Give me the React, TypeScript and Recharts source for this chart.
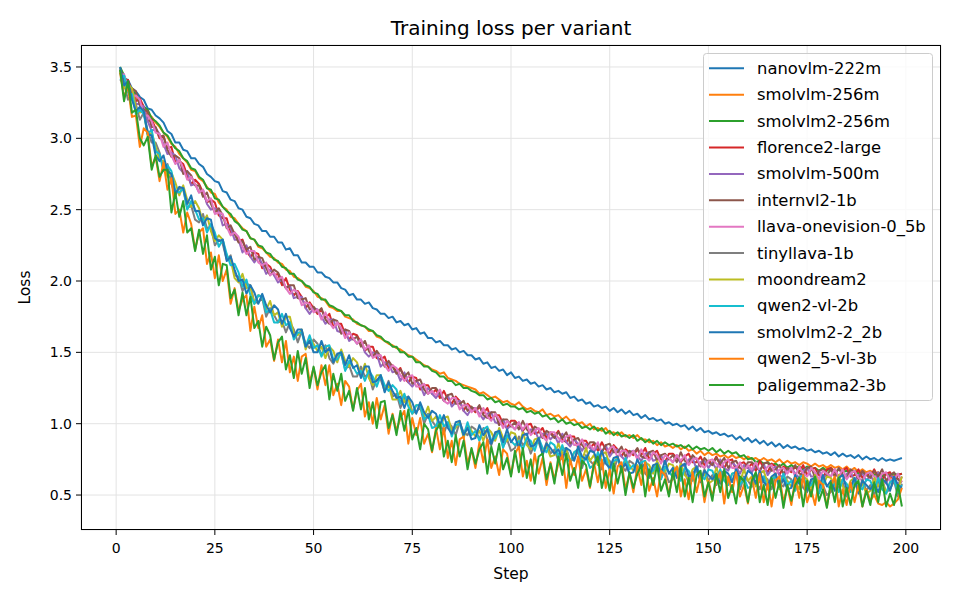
import React from "react";
import { LineChart, Line, XAxis, YAxis, CartesianGrid } from "recharts";

const nanovlm222m = [3.48,3.42,3.41,3.35,3.33,3.29,3.27,3.21,3.20,3.16,
3.14,3.11,3.05,3.03,2.97,2.97,2.92,2.91,2.86,2.86,
2.82,2.80,2.75,2.73,2.70,2.69,2.63,2.62,2.57,2.56,
2.51,2.50,2.45,2.44,2.40,2.39,2.35,2.35,2.31,2.31,
2.27,2.27,2.22,2.23,2.18,2.18,2.13,2.13,2.10,2.10,
2.06,2.06,2.03,2.02,1.99,1.99,1.95,1.94,1.90,1.91,
1.87,1.87,1.84,1.85,1.81,1.80,1.77,1.77,1.74,1.75,
1.71,1.72,1.69,1.70,1.66,1.67,1.63,1.64,1.60,1.60,
1.57,1.58,1.55,1.55,1.52,1.53,1.50,1.51,1.48,1.48,
1.45,1.46,1.42,1.43,1.39,1.40,1.37,1.38,1.34,1.36,
1.32,1.33,1.30,1.31,1.28,1.29,1.26,1.27,1.24,1.25,
1.22,1.23,1.21,1.22,1.18,1.19,1.16,1.17,1.14,1.15,
1.12,1.13,1.11,1.12,1.09,1.11,1.08,1.10,1.07,1.09,
1.06,1.07,1.04,1.06,1.03,1.04,1.02,1.03,1.00,1.01,
0.99,1.00,0.98,0.99,0.96,0.98,0.95,0.97,0.94,0.95,
0.93,0.94,0.92,0.93,0.91,0.92,0.89,0.91,0.88,0.90,
0.87,0.89,0.86,0.88,0.85,0.87,0.84,0.86,0.83,0.85,
0.83,0.84,0.82,0.83,0.81,0.82,0.80,0.81,0.79,0.80,
0.78,0.80,0.77,0.79,0.77,0.78,0.76,0.78,0.75,0.77,
0.75,0.76,0.74,0.76,0.74,0.75,0.74,0.75,0.76];

const smolvlm256m = [3.46,3.40,3.36,3.33,3.28,3.25,3.22,3.17,3.15,3.11,
3.08,3.04,3.01,2.96,2.94,2.89,2.86,2.83,2.78,2.77,
2.72,2.70,2.66,2.62,2.61,2.55,2.52,2.50,2.45,2.44,
2.40,2.37,2.35,2.30,2.29,2.24,2.23,2.20,2.17,2.16,
2.13,2.12,2.08,2.07,2.03,2.02,2.00,1.96,1.95,1.93,
1.89,1.88,1.86,1.82,1.81,1.79,1.79,1.75,1.74,1.73,
1.70,1.69,1.68,1.65,1.65,1.61,1.60,1.58,1.56,1.55,
1.53,1.52,1.50,1.48,1.47,1.45,1.43,1.41,1.40,1.38,
1.37,1.35,1.36,1.32,1.31,1.30,1.28,1.27,1.26,1.25,
1.24,1.21,1.22,1.20,1.18,1.19,1.17,1.15,1.16,1.14,
1.13,1.15,1.12,1.10,1.11,1.09,1.08,1.10,1.06,1.07,
1.05,1.06,1.03,1.05,1.02,1.03,1.00,1.01,0.98,1.00,
0.96,0.97,0.95,0.97,0.93,0.94,0.92,0.94,0.91,0.92,
0.90,0.92,0.89,0.89,0.87,0.88,0.85,0.87,0.84,0.85,
0.83,0.85,0.82,0.84,0.81,0.82,0.79,0.81,0.78,0.80,
0.78,0.79,0.77,0.78,0.76,0.78,0.76,0.77,0.75,0.77,
0.75,0.76,0.74,0.76,0.74,0.75,0.73,0.75,0.72,0.74,
0.72,0.73,0.71,0.73,0.72,0.70,0.72,0.70,0.71,0.69,
0.71,0.69,0.70,0.68,0.70,0.67,0.69,0.66,0.68,0.66,
0.67,0.65,0.66,0.64,0.65,0.62,0.64,0.61,0.62];

const smolvlm2256m = [3.50,3.44,3.38,3.34,3.31,3.26,3.22,3.20,3.14,3.12,
3.09,3.04,3.02,2.97,2.93,2.91,2.86,2.84,2.79,2.78,
2.73,2.71,2.65,2.64,2.58,2.57,2.52,2.49,2.47,2.42,
2.40,2.36,2.35,2.30,2.29,2.25,2.24,2.20,2.19,2.15,
2.14,2.10,2.09,2.05,2.05,2.01,2.00,1.97,1.96,1.92,
1.91,1.87,1.87,1.83,1.82,1.80,1.79,1.76,1.76,1.72,
1.71,1.69,1.68,1.66,1.65,1.62,1.61,1.58,1.57,1.54,
1.54,1.50,1.50,1.47,1.47,1.43,1.43,1.40,1.40,1.37,
1.36,1.33,1.33,1.30,1.30,1.27,1.28,1.25,1.25,1.23,
1.22,1.20,1.20,1.17,1.18,1.15,1.16,1.13,1.14,1.12,
1.12,1.10,1.11,1.08,1.09,1.07,1.08,1.05,1.06,1.03,
1.04,1.01,1.03,1.00,1.01,0.99,1.00,0.97,0.98,0.96,
0.98,0.95,0.97,0.93,0.95,0.92,0.94,0.91,0.92,0.90,
0.92,0.88,0.90,0.87,0.89,0.86,0.88,0.85,0.87,0.85,
0.86,0.84,0.85,0.83,0.85,0.82,0.84,0.82,0.83,0.81,
0.83,0.80,0.82,0.79,0.81,0.79,0.80,0.77,0.78,0.75,
0.76,0.73,0.74,0.72,0.73,0.71,0.72,0.70,0.72,0.69,
0.71,0.69,0.70,0.68,0.70,0.68,0.69,0.67,0.69,0.67,
0.69,0.66,0.68,0.66,0.67,0.65,0.67,0.65,0.66,0.64,
0.66,0.64,0.65,0.63,0.65,0.64,0.65,0.64,0.65];

const florence2Large = [3.48,3.39,3.41,3.32,3.26,3.28,3.22,3.12,3.13,3.07,
3.00,3.01,2.93,2.94,2.83,2.84,2.82,2.74,2.68,2.71,
2.68,2.62,2.55,2.57,2.55,2.46,2.44,2.44,2.34,2.34,
2.28,2.29,2.21,2.17,2.20,2.19,2.09,2.12,2.10,2.04,
2.05,1.97,2.02,1.94,1.90,1.93,1.89,1.81,1.85,1.81,
1.77,1.80,1.74,1.77,1.68,1.70,1.70,1.63,1.59,1.63,
1.62,1.57,1.51,1.54,1.54,1.46,1.45,1.47,1.39,1.41,
1.36,1.39,1.32,1.29,1.33,1.32,1.24,1.27,1.27,1.21,
1.24,1.18,1.23,1.17,1.14,1.19,1.16,1.09,1.14,1.11,
1.08,1.12,1.07,1.11,1.03,1.06,1.06,1.00,0.97,1.02,
1.02,0.99,0.95,0.99,1.00,0.93,0.94,0.97,0.90,0.94,
0.91,0.95,0.89,0.87,0.91,0.91,0.83,0.88,0.88,0.83,
0.86,0.81,0.87,0.82,0.79,0.85,0.82,0.77,0.82,0.80,
0.78,0.82,0.78,0.83,0.75,0.79,0.81,0.75,0.73,0.79,
0.79,0.76,0.73,0.77,0.79,0.73,0.73,0.77,0.71,0.74,
0.72,0.77,0.71,0.69,0.74,0.75,0.67,0.72,0.73,0.69,
0.72,0.67,0.74,0.69,0.66,0.72,0.70,0.64,0.70,0.68,
0.66,0.70,0.66,0.71,0.64,0.68,0.69,0.64,0.62,0.68,
0.69,0.66,0.62,0.67,0.69,0.63,0.64,0.68,0.62,0.65,
0.63,0.68,0.62,0.61,0.65,0.66,0.59,0.64,0.65];

const smolvlm500m = [3.42,3.43,3.34,3.35,3.24,3.24,3.22,3.12,3.05,3.07,
3.03,2.96,2.89,2.90,2.88,2.79,2.76,2.77,2.67,2.68,
2.62,2.64,2.54,2.50,2.51,2.49,2.39,2.40,2.37,2.29,
2.29,2.20,2.25,2.17,2.13,2.17,2.12,2.05,2.08,2.04,
1.99,2.01,1.95,1.97,1.88,1.89,1.89,1.81,1.77,1.81,
1.80,1.75,1.70,1.73,1.73,1.65,1.64,1.66,1.58,1.60,
1.56,1.59,1.50,1.47,1.50,1.49,1.40,1.43,1.42,1.36,
1.37,1.30,1.36,1.29,1.26,1.30,1.27,1.20,1.25,1.21,
1.18,1.22,1.16,1.20,1.12,1.15,1.16,1.09,1.06,1.11,
1.11,1.07,1.03,1.07,1.08,1.01,1.00,1.03,0.96,0.99,
0.96,1.01,0.94,0.92,0.96,0.96,0.89,0.93,0.93,0.89,
0.92,0.86,0.93,0.87,0.84,0.89,0.86,0.81,0.86,0.83,
0.80,0.85,0.80,0.85,0.77,0.81,0.82,0.77,0.74,0.80,
0.81,0.77,0.74,0.79,0.80,0.74,0.75,0.78,0.72,0.76,
0.73,0.78,0.72,0.70,0.75,0.76,0.68,0.73,0.74,0.69,
0.73,0.68,0.75,0.69,0.67,0.73,0.70,0.65,0.71,0.69,
0.66,0.71,0.67,0.72,0.64,0.68,0.70,0.64,0.62,0.68,
0.69,0.65,0.62,0.67,0.69,0.63,0.63,0.67,0.61,0.65,
0.63,0.68,0.61,0.60,0.65,0.66,0.59,0.64,0.65,0.60,
0.64,0.59,0.66,0.61,0.58,0.64,0.62,0.57,0.63];

const internvl21b = [3.49,3.42,3.34,3.35,3.33,3.23,3.20,3.19,3.08,3.08,
3.01,3.02,2.92,2.87,2.88,2.86,2.75,2.77,2.74,2.67,
2.67,2.59,2.62,2.54,2.48,2.51,2.46,2.37,2.39,2.33,
2.27,2.28,2.22,2.24,2.15,2.17,2.16,2.09,2.04,2.08,
2.06,2.00,1.95,1.97,1.97,1.88,1.87,1.88,1.80,1.82,
1.78,1.81,1.73,1.70,1.73,1.72,1.63,1.66,1.65,1.59,
1.61,1.54,1.58,1.51,1.47,1.51,1.47,1.40,1.44,1.40,
1.35,1.38,1.33,1.36,1.28,1.30,1.31,1.24,1.21,1.25,
1.25,1.21,1.16,1.20,1.21,1.14,1.14,1.16,1.09,1.12,
1.09,1.13,1.06,1.04,1.08,1.08,0.99,1.03,1.03,0.98,
1.01,0.96,1.02,0.96,0.93,0.98,0.96,0.90,0.95,0.93,
0.90,0.94,0.90,0.94,0.86,0.89,0.90,0.85,0.82,0.87,
0.87,0.84,0.80,0.85,0.86,0.80,0.80,0.84,0.77,0.81,
0.79,0.83,0.77,0.76,0.80,0.81,0.74,0.78,0.79,0.75,
0.78,0.73,0.80,0.74,0.72,0.78,0.75,0.70,0.76,0.73,
0.71,0.76,0.72,0.76,0.69,0.73,0.74,0.69,0.67,0.73,
0.73,0.70,0.67,0.72,0.73,0.67,0.68,0.71,0.65,0.69,
0.67,0.71,0.65,0.64,0.69,0.70,0.62,0.67,0.68,0.64,
0.68,0.63,0.69,0.64,0.62,0.68,0.66,0.61,0.67,0.64,
0.62,0.67,0.63,0.68,0.60,0.64,0.66,0.61,0.59];

const llavaOnevision05b = [3.44,3.45,3.34,3.29,3.30,3.27,3.16,3.16,3.12,3.04,
3.03,2.94,2.97,2.88,2.82,2.85,2.79,2.71,2.73,2.68,
2.62,2.64,2.56,2.58,2.47,2.48,2.47,2.38,2.32,2.34,
2.31,2.24,2.19,2.21,2.21,2.13,2.11,2.13,2.04,2.06,
2.01,2.03,1.95,1.91,1.94,1.92,1.83,1.85,1.84,1.78,
1.80,1.73,1.78,1.71,1.67,1.71,1.67,1.60,1.64,1.60,
1.56,1.59,1.52,1.55,1.46,1.48,1.48,1.41,1.37,1.41,
1.39,1.34,1.30,1.33,1.34,1.26,1.26,1.28,1.21,1.23,
1.20,1.24,1.16,1.14,1.18,1.18,1.10,1.13,1.13,1.08,
1.11,1.05,1.11,1.05,1.02,1.07,1.03,0.97,1.02,0.99,
0.96,1.01,0.96,1.00,0.92,0.95,0.97,0.91,0.88,0.94,
0.94,0.90,0.87,0.91,0.92,0.85,0.85,0.89,0.82,0.85,
0.82,0.87,0.80,0.79,0.83,0.84,0.76,0.81,0.81,0.77,
0.81,0.75,0.82,0.77,0.74,0.80,0.78,0.72,0.78,0.76,
0.73,0.78,0.74,0.78,0.71,0.75,0.76,0.71,0.69,0.74,
0.75,0.72,0.69,0.73,0.75,0.69,0.69,0.73,0.67,0.71,
0.68,0.73,0.67,0.66,0.70,0.71,0.64,0.68,0.69,0.65,
0.69,0.63,0.70,0.65,0.63,0.69,0.66,0.61,0.67,0.65,
0.63,0.68,0.63,0.68,0.61,0.65,0.67,0.62,0.60,0.65,
0.66,0.63,0.60,0.65,0.66,0.60,0.61,0.65,0.59];

const tinyllava1b = [3.41,3.39,3.27,3.31,3.24,3.13,3.18,3.05,2.97,2.97,
2.90,2.78,2.82,2.68,2.60,2.65,2.64,2.51,2.53,2.43,
2.41,2.47,2.37,2.38,2.25,2.29,2.26,2.15,2.18,2.04,
2.03,1.93,1.98,1.97,1.85,1.85,1.88,1.75,1.81,1.76,
1.71,1.72,1.64,1.71,1.66,1.57,1.65,1.56,1.53,1.59,
1.56,1.48,1.55,1.46,1.42,1.48,1.49,1.38,1.41,1.33,
1.33,1.40,1.33,1.35,1.24,1.31,1.31,1.23,1.30,1.19,
1.21,1.11,1.18,1.19,1.08,1.08,1.12,1.00,1.07,1.02,
0.98,1.01,0.93,1.01,0.98,0.92,1.01,0.94,0.92,0.98,
0.96,0.89,0.97,0.89,0.85,0.93,0.94,0.84,0.89,0.81,
0.83,0.91,0.85,0.88,0.79,0.86,0.87,0.79,0.87,0.79,
0.82,0.74,0.82,0.83,0.74,0.75,0.81,0.69,0.78,0.74,
0.71,0.75,0.68,0.76,0.74,0.67,0.76,0.70,0.67,0.74,
0.72,0.65,0.74,0.65,0.62,0.70,0.71,0.62,0.67,0.59,
0.61,0.70,0.63,0.67,0.58,0.65,0.67,0.60,0.68,0.60,
0.64,0.57,0.65,0.67,0.58,0.60,0.65,0.54,0.63,0.60,
0.56,0.60,0.54,0.63,0.61,0.54,0.64,0.58,0.56,0.63,
0.61,0.54,0.63,0.55,0.52,0.60,0.61,0.52,0.57,0.50,
0.52,0.61,0.55,0.59,0.49,0.57,0.59,0.52,0.61,0.53,
0.57,0.50,0.59,0.61,0.52,0.54,0.60,0.49,0.58];

const moondream2 = [3.48,3.35,3.38,3.35,3.21,3.18,3.19,3.01,3.04,2.94,
2.85,2.84,2.73,2.76,2.69,2.60,2.67,2.57,2.52,2.56,
2.51,2.41,2.46,2.35,2.28,2.32,2.29,2.16,2.15,2.02,
1.99,2.05,1.95,1.96,1.84,1.90,1.89,1.80,1.86,1.76,
1.78,1.68,1.75,1.75,1.63,1.62,1.66,1.52,1.60,1.56,
1.51,1.54,1.46,1.54,1.51,1.43,1.52,1.44,1.40,1.46,
1.43,1.34,1.42,1.32,1.27,1.34,1.34,1.24,1.27,1.17,
1.17,1.23,1.15,1.18,1.07,1.13,1.13,1.05,1.12,1.02,
1.05,0.97,1.04,1.05,0.95,0.97,1.02,0.90,0.99,0.95,
0.91,0.95,0.88,0.97,0.94,0.88,0.97,0.90,0.88,0.94,
0.93,0.85,0.94,0.85,0.82,0.89,0.90,0.80,0.84,0.77,
0.78,0.86,0.79,0.82,0.73,0.80,0.82,0.74,0.83,0.74,
0.78,0.71,0.79,0.80,0.71,0.72,0.77,0.66,0.74,0.71,
0.67,0.71,0.65,0.73,0.71,0.65,0.74,0.68,0.66,0.72,
0.71,0.64,0.72,0.64,0.61,0.68,0.70,0.61,0.65,0.58,
0.60,0.69,0.62,0.66,0.57,0.65,0.66,0.59,0.68,0.60,
0.63,0.56,0.65,0.67,0.58,0.59,0.65,0.54,0.63,0.60,
0.56,0.60,0.54,0.63,0.61,0.55,0.64,0.58,0.56,0.63,
0.62,0.55,0.64,0.56,0.52,0.60,0.62,0.53,0.58,0.51,
0.53,0.62,0.56,0.60,0.51,0.59,0.61,0.54,0.63];

const qwen2Vl2b = [3.41,3.44,3.32,3.31,3.17,3.20,3.17,3.03,3.06,2.91,
2.89,2.77,2.81,2.77,2.63,2.62,2.65,2.50,2.56,2.50,
2.43,2.44,2.34,2.40,2.34,2.24,2.29,2.19,2.11,2.12,
2.06,1.96,2.01,1.90,1.84,1.90,1.89,1.78,1.80,1.71,
1.71,1.77,1.69,1.71,1.59,1.64,1.64,1.54,1.62,1.53,
1.55,1.47,1.54,1.55,1.45,1.45,1.50,1.37,1.44,1.40,
1.35,1.37,1.30,1.37,1.33,1.26,1.34,1.27,1.23,1.27,
1.24,1.14,1.21,1.12,1.07,1.13,1.13,1.03,1.06,0.97,
0.98,1.06,0.98,1.01,0.91,0.99,1.00,0.92,1.01,0.92,
0.95,0.88,0.96,0.98,0.88,0.90,0.95,0.83,0.92,0.88,
0.85,0.88,0.82,0.90,0.88,0.81,0.90,0.83,0.80,0.87,
0.85,0.77,0.85,0.76,0.73,0.80,0.82,0.72,0.77,0.69,
0.71,0.80,0.73,0.76,0.67,0.74,0.75,0.68,0.76,0.68,
0.71,0.64,0.73,0.74,0.65,0.67,0.72,0.61,0.70,0.66,
0.63,0.67,0.60,0.69,0.67,0.60,0.70,0.64,0.61,0.68,
0.67,0.60,0.68,0.60,0.57,0.65,0.66,0.57,0.62,0.55,
0.56,0.65,0.59,0.63,0.54,0.61,0.63,0.56,0.65,0.57,
0.60,0.53,0.62,0.64,0.55,0.57,0.62,0.51,0.60,0.57,
0.54,0.58,0.52,0.61,0.58,0.52,0.62,0.56,0.54,0.61,
0.60,0.53,0.62,0.54,0.51,0.59,0.61,0.52,0.57];

const smolvlm222b = [3.50,3.37,3.40,3.27,3.19,3.22,3.19,3.03,3.02,2.88,
2.84,2.88,2.77,2.75,2.61,2.66,2.65,2.54,2.60,2.49,
2.49,2.39,2.44,2.43,2.30,2.28,2.29,2.14,2.17,2.08,
2.00,2.01,1.91,1.97,1.92,1.84,1.91,1.83,1.78,1.83,
1.80,1.70,1.77,1.67,1.61,1.66,1.66,1.54,1.58,1.50,
1.50,1.58,1.50,1.53,1.43,1.49,1.50,1.41,1.48,1.39,
1.41,1.32,1.40,1.40,1.29,1.30,1.34,1.22,1.29,1.23,
1.18,1.19,1.11,1.19,1.15,1.07,1.15,1.08,1.04,1.09,
1.07,0.99,1.06,0.97,0.93,1.01,1.02,0.92,0.97,0.89,
0.90,0.99,0.92,0.96,0.86,0.94,0.95,0.87,0.96,0.87,
0.91,0.83,0.92,0.93,0.84,0.85,0.90,0.78,0.86,0.83,
0.79,0.82,0.75,0.83,0.81,0.74,0.84,0.77,0.75,0.81,
0.80,0.73,0.81,0.72,0.69,0.76,0.77,0.68,0.72,0.65,
0.66,0.75,0.69,0.72,0.63,0.71,0.72,0.65,0.74,0.65,
0.69,0.62,0.70,0.72,0.63,0.64,0.70,0.59,0.67,0.64,
0.61,0.65,0.58,0.67,0.65,0.59,0.68,0.62,0.60,0.67,
0.65,0.58,0.67,0.59,0.56,0.63,0.65,0.56,0.61,0.54,
0.55,0.64,0.58,0.62,0.53,0.61,0.62,0.55,0.64,0.56,
0.60,0.53,0.62,0.64,0.54,0.56,0.62,0.51,0.60,0.57,
0.54,0.58,0.52,0.61,0.59,0.53,0.63,0.57,0.55];

const qwen25Vl3b = [3.46,3.29,3.36,3.15,3.16,2.94,3.07,3.04,2.80,2.87,
2.70,2.83,2.64,2.72,2.47,2.50,2.34,2.48,2.40,2.22,
2.34,2.37,2.12,2.20,2.02,2.18,2.00,2.08,1.84,1.95,
1.79,1.87,1.90,1.65,1.82,1.67,1.76,1.54,1.59,1.44,
1.59,1.43,1.58,1.36,1.47,1.30,1.47,1.49,1.29,1.39,
1.24,1.41,1.27,1.41,1.20,1.28,1.13,1.30,1.26,1.10,
1.23,1.28,1.05,1.15,1.00,1.18,1.03,1.13,0.93,1.07,
0.95,1.04,1.09,0.86,1.04,0.92,1.04,0.86,0.93,0.80,
0.97,0.82,0.97,0.76,0.88,0.71,0.89,0.91,0.72,0.82,
0.69,0.87,0.73,0.89,0.69,0.77,0.64,0.82,0.79,0.64,
0.79,0.84,0.63,0.74,0.60,0.79,0.65,0.76,0.57,0.73,
0.61,0.72,0.78,0.55,0.75,0.64,0.77,0.60,0.68,0.55,
0.73,0.59,0.75,0.55,0.68,0.51,0.70,0.73,0.54,0.65,
0.52,0.70,0.57,0.73,0.53,0.62,0.49,0.67,0.64,0.50,
0.65,0.70,0.49,0.61,0.47,0.66,0.52,0.64,0.45,0.60,
0.49,0.60,0.66,0.44,0.63,0.52,0.66,0.49,0.57,0.44,
0.62,0.48,0.65,0.45,0.58,0.42,0.60,0.63,0.45,0.56,
0.43,0.62,0.48,0.64,0.45,0.54,0.43,0.60,0.57,0.42,
0.57,0.63,0.42,0.54,0.43,0.59,0.45,0.57,0.42,0.54,
0.46,0.50,0.44,0.43,0.45,0.42,0.44,0.47,0.55];

const paligemma23b = [3.48,3.26,3.40,3.18,3.20,3.00,2.95,3.01,2.78,2.88,
2.73,2.78,2.78,2.48,2.62,2.45,2.56,2.34,2.37,2.21,
2.36,2.19,2.32,2.08,2.17,1.97,2.12,2.11,1.88,1.94,
1.76,1.92,1.76,1.89,1.67,1.72,1.54,1.68,1.62,1.45,
1.57,1.61,1.38,1.48,1.32,1.51,1.35,1.46,1.25,1.40,
1.27,1.36,1.41,1.17,1.35,1.23,1.35,1.16,1.23,1.09,
1.25,1.10,1.25,1.03,1.15,0.97,1.15,1.16,0.97,1.06,
0.92,1.09,0.95,1.10,0.89,0.97,0.82,1.00,0.96,0.81,
0.95,1.00,0.77,0.88,0.73,0.92,0.77,0.88,0.68,0.83,
0.72,0.82,0.87,0.65,0.84,0.72,0.86,0.68,0.76,0.63,
0.81,0.66,0.83,0.62,0.75,0.58,0.77,0.79,0.61,0.72,
0.58,0.77,0.64,0.79,0.60,0.69,0.55,0.74,0.71,0.56,
0.71,0.77,0.55,0.67,0.53,0.72,0.58,0.70,0.50,0.66,
0.55,0.65,0.71,0.49,0.68,0.57,0.71,0.53,0.61,0.49,
0.67,0.52,0.69,0.49,0.62,0.45,0.64,0.67,0.49,0.59,
0.46,0.65,0.52,0.68,0.48,0.57,0.44,0.63,0.60,0.45,
0.60,0.66,0.45,0.57,0.43,0.62,0.48,0.60,0.41,0.57,
0.46,0.57,0.62,0.42,0.60,0.49,0.63,0.46,0.54,0.41,
0.59,0.45,0.62,0.42,0.55,0.43,0.57,0.60,0.42,0.53,
0.43,0.59,0.45,0.61,0.42,0.51,0.43,0.57,0.42];

const seriesNames = ["nanovlm-222m","smolvlm-256m","smolvlm2-256m","florence2-large","smolvlm-500m","internvl2-1b","llava-onevision-0_5b","tinyllava-1b","moondream2","qwen2-vl-2b","smolvlm2-2_2b","qwen2_5-vl-3b","paligemma2-3b"];
const seriesValues = [nanovlm222m, smolvlm256m, smolvlm2256m, florence2Large, smolvlm500m, internvl21b, llavaOnevision05b, tinyllava1b, moondream2, qwen2Vl2b, smolvlm222b, qwen25Vl3b, paligemma23b];
const seriesColors = ["#1f77b4","#ff7f0e","#2ca02c","#d62728","#9467bd","#8c564b","#e377c2","#7f7f7f","#bcbd22","#17becf","#1f77b4","#ff7f0e","#2ca02c"];

const xTicks = [0, 25, 50, 75, 100, 125, 150, 175, 200];
const yTicks = [0.5, 1.0, 1.5, 2.0, 2.5, 3.0, 3.5];

const data = nanovlm222m.map((_, i) => {
  const row: Record<string, number> = { step: i + 1 };
  seriesNames.forEach((n, k) => { row[n] = seriesValues[k][i]; });
  return row;
});

const FONT = '"DejaVu Sans", sans-serif';
const PL = 81, PR = 941, PT = 45, PB = 530;

export default function App() {
  return (
    <div style={{ position: "absolute", left: 0, top: 0, width: 960, height: 600, background: "#fff", fontFamily: FONT }}>
      <LineChart width={960} height={600} data={data} margin={{ top: PT, right: 960 - PR, bottom: 30, left: 20 }}>
        <CartesianGrid stroke="#e3e3e3" strokeWidth={1} />
        <XAxis type="number" dataKey="step" domain={[-8.9, 208.9]} ticks={xTicks} allowDataOverflow
          height={40} tickSize={5} tickMargin={8} axisLine={false} tickLine={{ stroke: "#000" }}
          tick={{ fontSize: 14, fill: "#000", fontFamily: FONT }} interval={0} />
        <YAxis type="number" domain={[0.255, 3.654]} ticks={yTicks} allowDataOverflow width={61}
          tickSize={5} tickMargin={4} axisLine={false} tickLine={{ stroke: "#000" }}
          tickFormatter={(v: number) => v.toFixed(1)}
          tick={{ fontSize: 14, fill: "#000", fontFamily: FONT }} interval={0} />
        {seriesNames.map((n, k) => (
          <Line key={n} type="linear" dataKey={n} stroke={seriesColors[k]} strokeWidth={2}
            dot={false} activeDot={false} isAnimationActive={false} strokeLinejoin="round" />
        ))}
      </LineChart>
      <svg width={960} height={600} style={{ position: "absolute", left: 0, top: 0, pointerEvents: "none" }}>
        <rect x={PL + 0.5} y={PT + 0.5} width={PR - PL - 1} height={PB - PT - 1} fill="none" stroke="#000" strokeWidth={1} />
        <text x={(PL + PR) / 2} y={28} textAnchor="middle" dominantBaseline="central" fontSize={20} fontFamily={FONT} fill="#000">Training loss per variant</text>
        <text x={(PL + PR) / 2} y={574} textAnchor="middle" dominantBaseline="central" fontSize={15.5} fontFamily={FONT} fill="#000">Step</text>
        <text x={25} y={(PT + PB) / 2} textAnchor="middle" dominantBaseline="central" fontSize={15.5} fontFamily={FONT} fill="#000" transform={`rotate(-90 25 ${(PT + PB) / 2})`}>Loss</text>
        <rect x={703.5} y={53.5} width={229} height={347} rx={3} ry={3} fill="#fff" fillOpacity={0.8} stroke="#cccccc" strokeWidth={1} />
        {seriesNames.map((n, k) => {
          const cy = 68.3 + 26.4 * k;
          return (
            <g key={n}>
              <line x1={709} x2={744} y1={cy} y2={cy} stroke={seriesColors[k]} strokeWidth={2} />
              <text x={757} y={cy} dominantBaseline="central" fontSize={16.4} fontFamily={FONT} fill="#000">{n}</text>
            </g>
          );
        })}
      </svg>
    </div>
  );
}
